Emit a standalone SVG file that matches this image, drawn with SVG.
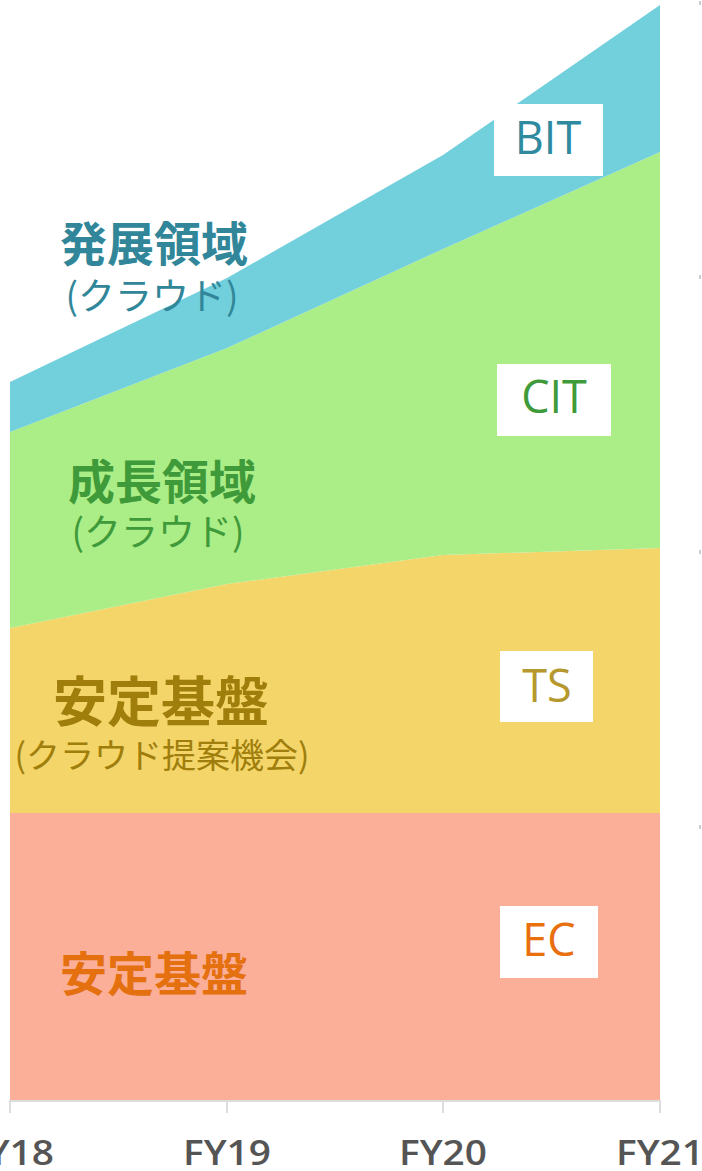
<svg xmlns="http://www.w3.org/2000/svg" width="702" height="1171" viewBox="0 0 702 1171">
<style>
.cjk{font-family:"Noto Sans CJK JP","Noto Sans",sans-serif;text-anchor:middle}
.b{font-weight:700}
.sub{font-weight:400}
.lbl{font-family:"Open Sans","Noto Sans",sans-serif;font-size:45px;text-anchor:middle}
.box{fill:#ffffff}
.ax{font-family:"Open Sans","Liberation Sans",sans-serif;font-weight:600;font-size:34px;fill:#555555;text-anchor:middle}
.grid{stroke:#dddddd;stroke-width:2;fill:none}
.rt{stroke:#cccccc;stroke-width:2}
</style>
<rect width="702" height="1171" fill="#ffffff"/>
<g id="areas">
<rect id="area-ec" x="10" y="813" width="650" height="287" fill="#fbaf98"/>
<polygon id="area-ts" points="10,628 227,584 443,555 660,548 660,813 10,813" fill="#f3d569"/>
<polygon id="area-cit" points="10,432 227,348 443,249 660,152 660,548 443,555 227,584 10,628" fill="#abed87"/>
<polygon id="area-bit" points="10,382 227,278 443,155 660,5 660,152 443,249 227,348 10,432" fill="#72cfdc"/>
</g>
<g id="axis">
<line class="grid" x1="10" y1="1101" x2="660" y2="1101"/>
<line class="grid" x1="10" y1="1100" x2="10" y2="1113"/>
<line class="grid" x1="227" y1="1100" x2="227" y2="1113"/>
<line class="grid" x1="443" y1="1100" x2="443" y2="1113"/>
<line class="grid" x1="660" y1="1100" x2="660" y2="1113"/>
<line class="rt" x1="700" y1="1" x2="700" y2="5"/>
<line class="rt" x1="700" y1="275" x2="700" y2="279"/>
<line class="rt" x1="700" y1="550" x2="700" y2="554"/>
<line class="rt" x1="700" y1="825" x2="700" y2="829"/>
<text class="ax" x="10" y="1165" textLength="88" lengthAdjust="spacingAndGlyphs">FY18</text>
<text class="ax" x="227" y="1165" textLength="88" lengthAdjust="spacingAndGlyphs">FY19</text>
<text class="ax" x="443" y="1165" textLength="88" lengthAdjust="spacingAndGlyphs">FY20</text>
<text class="ax" x="660" y="1165" textLength="88" lengthAdjust="spacingAndGlyphs">FY21</text>
</g>
<g id="bit">
<rect class="box" x="494" y="104" width="109" height="72"/>
<text class="lbl" x="548" y="154" fill="#2f8aa0">BIT</text>
</g>
<g id="cit">
<rect class="box" x="497" y="364" width="114" height="72"/>
<text class="lbl" x="554" y="413" fill="#3f9a3a">CIT</text>
</g>
<g id="ts">
<rect class="box" x="500" y="651" width="93" height="71"/>
<text class="lbl" x="547" y="702" fill="#b5982e">TS</text>
</g>
<g id="ec">
<rect class="box" x="500" y="906" width="98" height="72"/>
<text class="lbl" x="549" y="956" fill="#e8700f">EC</text>
</g>
<g id="label-hatten">
<text class="cjk b" x="154" y="261" font-size="47" fill="#318799">発展領域</text>
<text class="cjk sub" x="152" y="310" font-size="37" fill="#318799">(クラウド)</text>
</g>
<g id="label-seichou">
<text class="cjk b" x="162" y="499" font-size="47" fill="#3f9a3a">成長領域</text>
<text class="cjk sub" x="158" y="546" font-size="37" fill="#3f9a3a">(クラウド)</text>
</g>
<g id="label-antei-ts">
<text class="cjk b" x="161" y="722" font-size="54" fill="#a07e0c">安定基盤</text>
<text class="cjk sub" x="162" y="768" font-size="34" fill="#a07e0c">(クラウド提案機会)</text>
</g>
<g id="label-antei-ec">
<text class="cjk b" x="154" y="991" font-size="47" fill="#e4700f">安定基盤</text>
</g>
</svg>
